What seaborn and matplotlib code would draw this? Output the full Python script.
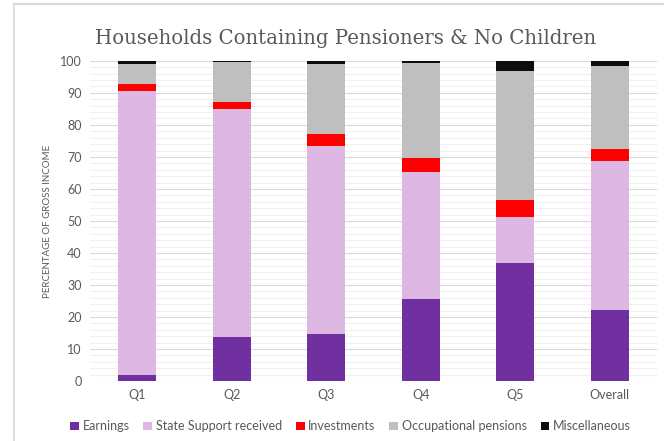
import numpy as np
import pandas as pd
import matplotlib.pyplot as plt
import seaborn as sns
from matplotlib.patches import Patch
from matplotlib.ticker import MultipleLocator

# --- data (percentage of gross income) ---
groups = ["Q1", "Q2", "Q3", "Q4", "Q5", "Overall"]
earnings = [1.9, 13.6, 14.8, 25.7, 37.0, 22.3]
state_support = [88.7, 71.3, 58.7, 39.7, 14.1, 46.4]
investments = [2.3, 2.3, 3.7, 4.3, 5.5, 3.9]
occupational = [6.2, 12.3, 21.7, 29.7, 40.3, 25.9]
misc = [0.9, 0.5, 1.1, 0.6, 3.1, 1.4]

series_names = ["Earnings", "State Support received", "Investments",
                "Occupational pensions", "Miscellaneous"]
colors = ["#7030A0", "#DDB8E3", "#FF0000", "#BFBFBF", "#0D0D0D"]

df = pd.DataFrame({"group": groups, "Earnings": earnings,
                   "State Support received": state_support,
                   "Investments": investments,
                   "Occupational pensions": occupational,
                   "Miscellaneous": misc})
cum = df[series_names].cumsum(axis=1)

sns.set_theme(style="white")
plt.rcParams["font.family"] = ["Lato", "DejaVu Sans"]

fig = plt.figure(figsize=(6.64, 4.41), dpi=100)
ax = fig.add_axes([0.1355, 0.136, 0.854, 0.726])

# stacked bars: draw the cumulative totals from the top down
for name, col in zip(series_names[::-1], colors[::-1]):
    sns.barplot(x=df["group"], y=cum[name], color=col, width=0.4,
                saturation=1, linewidth=0, ax=ax, zorder=3)

ax.set_ylim(0, 100)
ax.set_xlim(-0.5, 5.5)
ax.yaxis.set_major_locator(MultipleLocator(10))
ax.yaxis.set_minor_locator(MultipleLocator(2))
ax.grid(axis="y", which="major", color="#D9D9D9", linewidth=0.8, zorder=0)
ax.grid(axis="y", which="minor", color="#F0F0F0", linewidth=0.8, zorder=0)
ax.set_axisbelow(True)
for s in ["top", "right", "left", "bottom"]:
    ax.spines[s].set_visible(False)
ax.tick_params(axis="both", which="both", length=0, labelsize=9,
               labelcolor="#595959", pad=6)
ax.set_xlabel("")
ax.set_ylabel("PERCENTAGE OF GROSS INCOME", fontsize=7, color="#595959",
              labelpad=6)

fig.text(0.521, 0.912, "Households Containing Pensioners & No Children",
         ha="center", va="center", fontsize=14.2, color="#595959",
         family="DejaVu Serif")

handles = [Patch(facecolor=c, edgecolor="none", label=n)
           for n, c in zip(series_names, colors)]
fig.legend(handles=handles, loc="center", bbox_to_anchor=(0.528, 0.033),
           ncol=5, frameon=False, fontsize=9, handlelength=0.7,
           handleheight=0.7, handletextpad=0.3, columnspacing=1.1,
           labelcolor="#595959")

# screenshot frame lines
fig.add_artist(plt.Line2D([0.021, 0.021], [0, 0.99], color="#D9D9D9",
                          linewidth=1.2, transform=fig.transFigure))
fig.add_artist(plt.Line2D([0.021, 1.0], [0.99, 0.99], color="#D9D9D9",
                          linewidth=1.5, transform=fig.transFigure))

fig.savefig("out.png", dpi=100)
